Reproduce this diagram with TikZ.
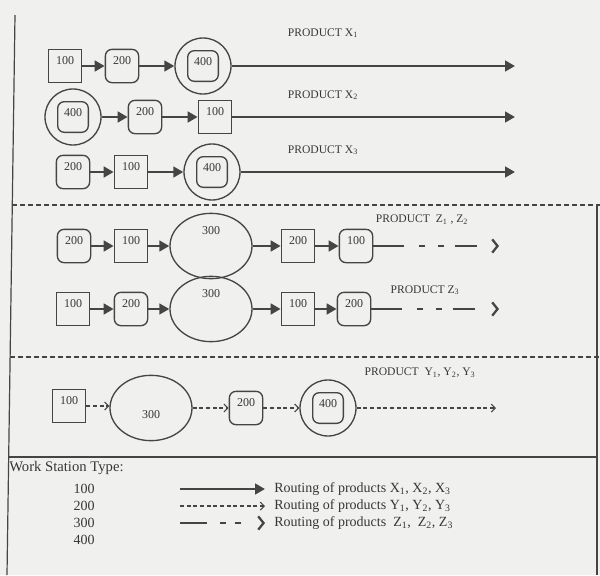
\documentclass[tikz,border=0pt]{standalone}
\usepackage{fontspec}
\setmainfont{Liberation Serif}
\usetikzlibrary{arrows.meta,shapes.geometric}
\definecolor{ink}{HTML}{454545}
\definecolor{paper}{HTML}{F0F0EE}
\begin{document}
\begin{tikzpicture}[x=0.75pt,y=-0.75pt,
  sq/.style={draw=ink, line width=1pt, minimum width=25pt, minimum height=25pt,
    inner sep=0pt, font=\fontsize{9}{9}\selectfont, text height=6.3pt, text depth=9pt, text=ink!80!black},
  rd/.style={sq, rounded corners=5pt},
  rdin/.style={rd, minimum width=23pt, minimum height=23pt, text depth=7pt},
  ring/.style={circle, draw=ink, line width=1pt, minimum size=42pt, inner sep=0pt},
  ell/.style={ellipse, draw=ink, line width=1pt, minimum width=61.5pt, minimum height=49pt, inner sep=0pt},
  num/.style={font=\fontsize{9}{9}\selectfont, inner sep=0pt, text=ink!80!black},
  lbl/.style={font=\fontsize{8.7}{9}\selectfont, inner sep=0pt, text=ink!80!black},
  leg/.style={font=\fontsize{10.5}{12}\selectfont, inner sep=0pt, text=ink!80!black, anchor=west},
  sol/.style={draw=ink, line width=2pt, -{Triangle[length=7.5pt,width=8pt]}},
  ydash/.style={draw=ink, line width=0.8pt, dash pattern=on 3pt off 2pt,
    -{Straight Barb[length=3pt,width=6pt,line width=0.8pt]}},
  zdash/.style={draw=ink, line width=2pt,
    dash pattern=on 23pt off 11pt on 4.5pt off 10pt on 4.5pt off 8pt on 16.5pt off 40pt,
    -{Straight Barb[length=4pt,width=10pt,line width=1.7pt]}},
  zleg/.style={draw=ink, line width=2pt,
    dash pattern=on 20pt off 10pt on 4.5pt off 7pt on 4.5pt off 40pt,
    -{Straight Barb[length=4pt,width=10pt,line width=1.7pt]}},
  sepdash/.style={draw=ink, line width=0.8pt, dash pattern=on 4pt off 2pt},
  frame/.style={draw=ink, line width=0.9pt}
]
\useasboundingbox (0,0) rectangle (600,575);
\fill[paper] (0,0) rectangle (600,575);

% frame
\coordinate (ft) at (15,15);
\coordinate (fb) at (7,575);
\coordinate (rt) at (597,205);
\coordinate (rb) at (597,575);
\draw[frame] (ft) -- (fb);
\draw[frame] (rt) -- (rb);
\coordinate (s1l) at (12,205);
\coordinate (s1r) at (600,205);
\coordinate (s2l) at (10,357);
\coordinate (s2r) at (600,357);
\coordinate (s3l) at (8,457);
\coordinate (s3r) at (597,457);
\draw[sepdash] (s1l) -- (s1r);
\draw[sepdash] (s2l) -- (s2r);
\draw[frame, line width=1.4pt] (s3l) -- (s3r);

% Product X1
\node[lbl] (la) at (323,33) {PRODUCT X\textsubscript{1}};
\node[sq] (a1) at (65,66) {100};
\node[rd] (a2) at (122,66) {200};
\node[ring] (a3) at (203,66) {};
\node[rdin] (a3i) at (a3) {400};
\coordinate (a4) at (515,66);
\draw[sol] (a1) -- (a2);
\draw[sol] (a2) -- (a3);
\draw[sol] (a3) -- (a4);

% Product X2
\node[lbl] (lb) at (323,95) {PRODUCT X\textsubscript{2}};
\node[ring] (b1) at (73,117) {};
\node[rdin] (b1i) at (b1) {400};
\node[rd] (b2) at (145,117) {200};
\node[sq] (b3) at (215,117) {100};
\coordinate (b4) at (515,117);
\draw[sol] (b1) -- (b2);
\draw[sol] (b2) -- (b3);
\draw[sol] (b3) -- (b4);

% Product X3
\node[lbl] (lc) at (323,150) {PRODUCT X\textsubscript{3}};
\node[rd] (c1) at (73,172) {200};
\node[sq] (c2) at (131,172) {100};
\node[ring] (c3) at (212,172) {};
\node[rdin] (c3i) at (c3) {400};
\coordinate (c4) at (515,172);
\draw[sol] (c1) -- (c2);
\draw[sol] (c2) -- (c3);
\draw[sol] (c3) -- (c4);

% Product Z1, Z2
\node[lbl] (ld) at (422,220) {PRODUCT\ \ Z\textsubscript{1} , Z\textsubscript{2}};
\node[rd] (d1) at (74,246) {200};
\node[sq] (d2) at (131,246) {100};
\node[ell] (d3) at (211,246) {};
\node[num] (d3t) at (211,231) {300};
\node[sq] (d4) at (298,246) {200};
\node[rd] (d5) at (356,246) {100};
\coordinate (d6) at (499,246);
\draw[sol] (d1) -- (d2);
\draw[sol] (d2) -- (d3);
\draw[sol] (d3) -- (d4);
\draw[sol] (d4) -- (d5);
\draw[zdash] (d5) -- (d6);

% Product Z3
\node[lbl] (le) at (425,290) {PRODUCT Z\textsubscript{3}};
\node[sq] (e1) at (73,309) {100};
\node[rd] (e2) at (131,309) {200};
\node[ell] (e3) at (211,309) {};
\node[num] (e3t) at (211,294) {300};
\node[sq] (e4) at (298,309) {100};
\node[rd] (e5) at (354,309) {200};
\coordinate (e6) at (499,309);
\draw[sol] (e1) -- (e2);
\draw[sol] (e2) -- (e3);
\draw[sol] (e3) -- (e4);
\draw[sol] (e4) -- (e5);
\draw[zdash] (e5) -- (e6);

% Product Y1, Y2, Y3
\node[lbl] (lf) at (420,373) {PRODUCT\ \ Y\textsubscript{1}, Y\textsubscript{2}, Y\textsubscript{3}};
\node[sq] (f1) at (69,406) {100};
\node[ell] (f2) at (151,408) {};
\node[num] (f2t) at (151,415) {300};
\node[rd] (f3) at (246,408) {200};
\node[ring] (f4) at (328,408) {};
\node[rdin] (f4i) at (f4) {400};
\coordinate (f5) at (496,408);
\draw[ydash] (f1.east) -- (f2.west |- f1.east);
\draw[ydash] (f2) -- (f3);
\draw[ydash] (f3) -- (f4);
\draw[ydash] (f4) -- (f5);

% Legend
\node[leg, font=\fontsize{11}{12}\selectfont] (wst) at (9,468) {Work Station Type:};
\node[num, font=\fontsize{10.5}{12}\selectfont] (w1) at (84,489) {100};
\node[num, font=\fontsize{10.5}{12}\selectfont] (w2) at (84,506) {200};
\node[num, font=\fontsize{10.5}{12}\selectfont] (w3) at (84,523) {300};
\node[num, font=\fontsize{10.5}{12}\selectfont] (w4) at (84,540) {400};
\coordinate (g1s) at (180,489);
\coordinate (g1e) at (265,489);
\coordinate (g2s) at (180,506);
\coordinate (g2e) at (265,506);
\coordinate (g3s) at (180,523);
\coordinate (g3e) at (265,523);
\draw[sol] (g1s) -- (g1e);
\draw[ydash] (g2s) -- (g2e);
\draw[zleg] (g3s) -- (g3e);
\node[leg] (t1) at (274,489) {Routing of products X\textsubscript{1}, X\textsubscript{2}, X\textsubscript{3}};
\node[leg] (t2) at (274,506) {Routing of products Y\textsubscript{1}, Y\textsubscript{2}, Y\textsubscript{3}};
\node[leg] (t3) at (274,523) {Routing of products\ \ Z\textsubscript{1},\ \ Z\textsubscript{2}, Z\textsubscript{3}};
\end{tikzpicture}
\end{document}
